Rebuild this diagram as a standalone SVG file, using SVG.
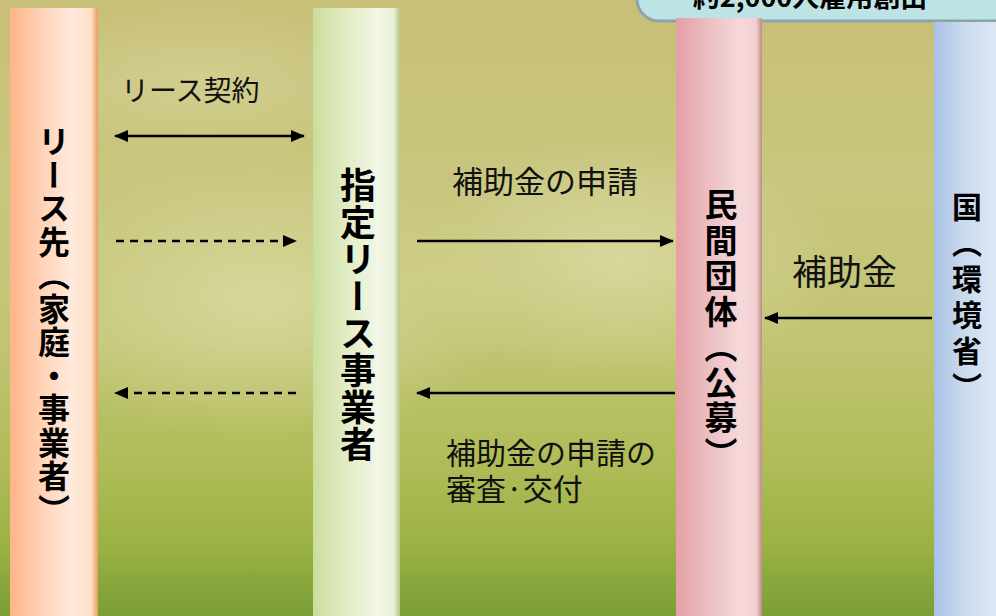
<svg xmlns="http://www.w3.org/2000/svg" width="996" height="616" viewBox="0 0 996 616">
  <defs>
    <linearGradient id="bg" x1="0" y1="0" x2="0" y2="1">
      <stop offset="0" stop-color="#c8bf78"/>
      <stop offset="0.3" stop-color="#c8c67e"/>
      <stop offset="0.55" stop-color="#c2c474"/>
      <stop offset="0.75" stop-color="#b0bc58"/>
      <stop offset="0.88" stop-color="#9cb246"/>
      <stop offset="1" stop-color="#7a9e34"/>
    </linearGradient>
    <radialGradient id="haze" cx="0.5" cy="0.5" r="0.5">
      <stop offset="0" stop-color="#e6e6b8" stop-opacity="0.55"/>
      <stop offset="1" stop-color="#e6e6b8" stop-opacity="0"/>
    </radialGradient>
    <linearGradient id="gOrange" x1="0" y1="0" x2="1" y2="0">
      <stop offset="0" stop-color="#ffb486"/>
      <stop offset="0.35" stop-color="#ffd2b6"/>
      <stop offset="0.7" stop-color="#ffeadc"/>
      <stop offset="0.92" stop-color="#ffe0c8"/>
      <stop offset="1" stop-color="#eb9c5c"/>
    </linearGradient>
    <linearGradient id="gGreen" x1="0" y1="0" x2="1" y2="0">
      <stop offset="0" stop-color="#cadd9c"/>
      <stop offset="0.4" stop-color="#e2edc6"/>
      <stop offset="0.75" stop-color="#f2f7e6"/>
      <stop offset="0.93" stop-color="#e8f0d4"/>
      <stop offset="1" stop-color="#b4c48a"/>
    </linearGradient>
    <linearGradient id="gPink" x1="0" y1="0" x2="1" y2="0">
      <stop offset="0" stop-color="#e4a0a6"/>
      <stop offset="0.4" stop-color="#ecc0c4"/>
      <stop offset="0.75" stop-color="#f6d8da"/>
      <stop offset="0.93" stop-color="#f2d0d2"/>
      <stop offset="1" stop-color="#c08a86"/>
    </linearGradient>
    <linearGradient id="gBlue" x1="0" y1="0" x2="1" y2="0">
      <stop offset="0" stop-color="#a8c0e4"/>
      <stop offset="0.4" stop-color="#c8daee"/>
      <stop offset="1" stop-color="#e2eaf6"/>
    </linearGradient>
    <marker id="ah" viewBox="0 0 14 12" refX="13" refY="6" markerWidth="14" markerHeight="12" markerUnits="userSpaceOnUse" orient="auto-start-reverse">
      <path d="M0,0 L14,6 L0,12 Z" fill="#000"/>
    </marker>
    <style>
      .vt { font-family: "Noto Sans CJK JP", "Noto Sans CJK SC", sans-serif; font-weight: 700; fill: #000; writing-mode: vertical-rl; text-orientation: upright; }
      .lbl { font-family: "Noto Sans CJK JP", "Noto Sans CJK SC", sans-serif; font-weight: 400; fill: #111; }
      .ln { stroke: #000; stroke-width: 2.5; fill: none; }
      .dash { stroke-dasharray: 8 6; }
    </style>
  </defs>

  <!-- background -->
  <rect x="0" y="0" width="996" height="616" fill="url(#bg)"/>
  <ellipse cx="260" cy="300" rx="260" ry="140" fill="url(#haze)"/>
  <ellipse cx="620" cy="260" rx="220" ry="120" fill="url(#haze)"/>
  <ellipse cx="200" cy="80" rx="200" ry="80" fill="url(#haze)" opacity="0.6"/>

  <!-- callout -->
  <g id="callout">
    <rect x="637" y="-40" width="400" height="61" rx="22" ry="22" fill="#bde3e5" stroke="#8aa4aa" stroke-width="3"/>
    <text x="810" y="7" text-anchor="middle" font-family="Noto Sans CJK JP, sans-serif" font-weight="700" font-size="27" fill="#000">約2,000人雇用創出</text>
  </g>

  <!-- nodes -->
  <g id="node-lessee">
    <rect x="10" y="8" width="88" height="620" fill="url(#gOrange)"/>
    <text class="vt" x="54" y="125" font-size="32" letter-spacing="1.5">リース先（家庭・事業者）</text>
  </g>
  <g id="node-leasing">
    <rect x="313" y="8" width="87" height="620" fill="url(#gGreen)"/>
    <text class="vt" x="358" y="167" font-size="36" letter-spacing="1">指定リース事業者</text>
  </g>
  <g id="node-private">
    <rect x="676" y="18" width="86" height="620" fill="url(#gPink)"/>
    <text class="vt" x="721" y="188" font-size="33" letter-spacing="2.5">民間団体（公募）</text>
  </g>
  <g id="node-gov">
    <rect x="934" y="22" width="70" height="620" fill="url(#gBlue)"/>
    <text class="vt" x="967" y="192" font-size="30" letter-spacing="6">国（環境省）</text>
  </g>

  <!-- connectors -->
  <g id="connectors">
    <line class="ln" x1="115" y1="136" x2="304" y2="136" marker-start="url(#ah)" marker-end="url(#ah)"/>
    <line class="ln dash" x1="116" y1="241" x2="296" y2="241" marker-end="url(#ah)"/>
    <line class="ln dash" x1="296" y1="393" x2="115" y2="393" marker-end="url(#ah)"/>
    <line class="ln" x1="417" y1="241" x2="673" y2="241" marker-end="url(#ah)"/>
    <line class="ln" x1="675" y1="393" x2="417" y2="393" marker-end="url(#ah)"/>
    <line class="ln" x1="932" y1="318" x2="765" y2="318" marker-end="url(#ah)"/>
  </g>

  <!-- labels -->
  <g id="labels">
    <text class="lbl" x="121" y="101" font-size="28">リース契約</text>
    <text class="lbl" x="452" y="193" font-size="31">補助金の申請</text>
    <text class="lbl" x="792" y="285" font-size="35">補助金</text>
    <text class="lbl" x="446" y="464" font-size="30">補助金の申請の</text>
    <text class="lbl" x="446" y="500" font-size="30">審査·交付</text>
  </g>
</svg>
